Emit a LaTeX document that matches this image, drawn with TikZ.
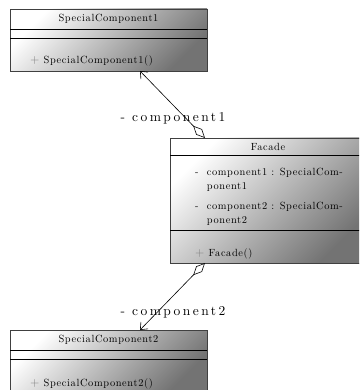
\documentclass[tikz,border=0pt]{standalone}
\usepackage{fontspec}
\usetikzlibrary{arrows.meta}
\newfontfamily\umlfont[LetterSpace=6]{lmroman10-regular.otf}
\newfontfamily\rolefont[LetterSpace=18]{lmroman10-regular.otf}

\begin{document}
\begin{tikzpicture}[x=1pt,y=-1pt,
    classbox/.style={top color=white,bottom color=black!55,shading angle=45,draw=black!75,line width=0.8pt},
    sepline/.style={black,line width=0.8pt},
    umltext/.style={font=\umlfont\fontsize{10.4}{12.5}\selectfont,inner sep=0pt},
    roletext/.style={font=\rolefont\fontsize{13.5}{15}\selectfont,inner sep=0pt},
    aggr/.style={line width=0.6pt,{Diamond[open,length=17pt,width=8pt]}-{Straight Barb[length=6pt,width=10pt]}}]
    \useasboundingbox (0,0) rectangle (359,390);
    \clip (0,0) rectangle (359,390);

    % SpecialComponent1
    \shadedraw[classbox] (10,9) rectangle (207,71);
    \draw[sepline] (10,29) -- (207,29) (10,38.5) -- (207,38.5);
    \node[umltext] (sc1name) at (108.5,19) {SpecialComponent1};
    \node[umltext,anchor=base west] (sc1op) at (30,64) {{\color{black!50}\large+}\ SpecialComponent1()};
    \coordinate (sc1) at (140,71);

    % Facade
    \shadedraw[classbox] (170,138) rectangle (367,263);
    \draw[sepline] (170,155) -- (367,155) (170,230) -- (367,230);
    \node[umltext] (facname) at (268,147) {Facade};
    \node[umltext,anchor=base west,align=left] (facattr) at (195,175)
        {\begin{tabular}[t]{@{}l@{\ \ }l@{}}
         - & component1 : SpecialCom-\\[1.5pt]
           & ponent1\\[7.5pt]
         - & component2 : SpecialCom-\\[1.5pt]
           & ponent2
         \end{tabular}};
    \node[umltext,anchor=base west] (facop) at (195,256) {{\color{black!50}\large+}\ Facade()};
    \coordinate (fac1) at (205,138);
    \coordinate (fac2) at (205,263);

    % SpecialComponent2
    \shadedraw[classbox] (10,330) rectangle (207,392);
    \draw[sepline] (10,350) -- (207,350) (10,359) -- (207,359);
    \node[umltext] (sc2name) at (108.5,340) {SpecialComponent2};
    \node[umltext,anchor=base west] (sc2op) at (30,386) {{\color{black!50}\large+}\ SpecialComponent2()};
    \coordinate (sc2) at (140,330);

    % Aggregationen
    \draw[aggr] (fac1) -- (sc1);
    \draw[aggr] (fac2) -- (sc2);
    \node[roletext,anchor=base] (role1) at (173,122) {- component1};
    \node[roletext,anchor=base] (role2) at (173,315) {- component2};
\end{tikzpicture}
\end{document}
